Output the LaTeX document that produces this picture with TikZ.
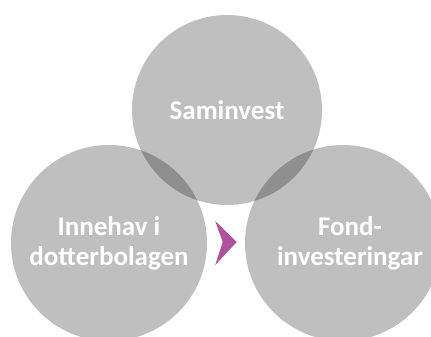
\documentclass[tikz,border=0pt]{standalone}
\usepackage{fontspec}
\setmainfont{Carlito}
\usetikzlibrary{positioning}

\definecolor{chevronpurple}{RGB}{172,82,158}

\begin{document}
\begin{tikzpicture}[
  disc/.style={circle, fill=black, fill opacity=0.25, text opacity=1, inner sep=0pt,
    text=white, align=center, font=\bfseries\fontsize{19.2}{21.3}\selectfont},
  big/.style={disc, minimum size=4.9cm},
  small/.style={disc, minimum size=4.75cm}
]
  \clip (0,0) rectangle (10.775,8.4);

  \node[small] (saminvest) at (5.675,5.65) {Saminvest};
  \node[big] (innehav) at (2.725,2.325) {Innehav i\\dotterbolagen};
  \node[big] (fond) at (8.575,2.325) {\hspace*{0.35cm}Fond-\\\hspace*{0.35cm}investeringar};

  % chevron between the two lower circles
  \fill[chevronpurple] (5.38,2.875) -- (5.918,2.35) -- (5.38,1.775) -- (5.568,2.35) -- cycle;
\end{tikzpicture}
\end{document}
